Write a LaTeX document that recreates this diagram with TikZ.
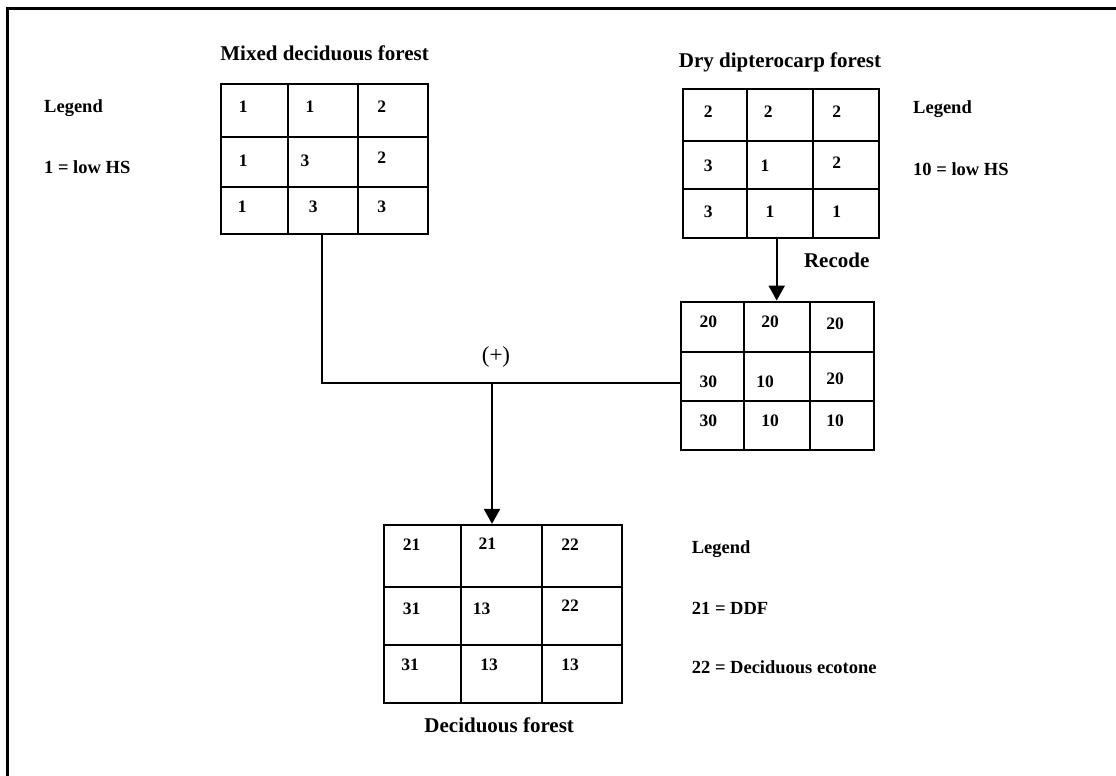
\documentclass[tikz,border=0pt]{standalone}
\usepackage{fontspec}
\setmainfont{Liberation Serif}
\usetikzlibrary{arrows.meta,fit}

% A 3x3 raster drawn as a framed box with its inner cell lines:
% name, x1, y1, x2, y2, column lines c1 c2, row lines r1 r2
\newcommand{\cellgrid}[9]{%
  \draw[gridline] (#6,#3) -- (#6,#5) (#7,#3) -- (#7,#5)
                  (#2,#8) -- (#4,#8) (#2,#9) -- (#4,#9);
  \node[gridframe, fit={(#2,#3) (#4,#5)}] (#1) {};
}

\begin{document}
\begin{tikzpicture}[x=1pt, y=-1pt,
  gridframe/.style={draw, line width=2.3pt, inner sep=0pt},
  gridline/.style={line width=1.9pt},
  num/.style={font=\fontsize{17.5}{20}\selectfont\bfseries, anchor=base, inner sep=0pt},
  title/.style={font=\fontsize{21}{24}\selectfont\bfseries, anchor=base, inner sep=0pt},
  legend/.style={font=\fontsize{18.5}{22}\selectfont\bfseries, anchor=base west, inner sep=0pt},
  link/.style={line width=1.9pt},
  arrowlink/.style={line width=2.2pt, -{Triangle[width=16pt, length=15pt]}}]

\useasboundingbox (0,0) rectangle (1116,776);

% outer frame (open at the right and bottom page edges)
\draw[line width=2.6pt] (7.7,780) -- (7.7,8.5) -- (1120,8.5);

% ---- Mixed deciduous forest ----
\node[title] (tA) at (324.6,60) {Mixed deciduous forest};
\cellgrid{gA}{220.7}{84.3}{427.7}{234}{287.7}{358}{136.7}{186.7}
\node[num] (a11) at (243.3,112.7) {1};
\node[num] (a12) at (310,112.7) {1};
\node[num] (a13) at (381.7,112.7) {2};
\node[num] (a21) at (243.3,166) {1};
\node[num] (a22) at (305,166) {3};
\node[num] (a23) at (381.7,163.7) {2};
\node[num] (a31) at (242.3,212.7) {1};
\node[num] (a32) at (313.3,212.7) {3};
\node[num] (a33) at (381.7,212.7) {3};

\node[legend] (lgA) at (44,112.5) {Legend};
\node[legend] (lgA1) at (44,173.5) {1 = low HS};

% ---- Dry dipterocarp forest ----
\node[title] (tB) at (780,67) {Dry dipterocarp forest};
\cellgrid{gB}{683.3}{89.3}{878.7}{238.3}{746.7}{813.3}{141}{189.3}
\node[num] (b11) at (708.3,117.7) {2};
\node[num] (b12) at (768.3,117.7) {2};
\node[num] (b13) at (836.7,117.7) {2};
\node[num] (b21) at (708.3,171) {3};
\node[num] (b22) at (765,171) {1};
\node[num] (b23) at (836.7,168.7) {2};
\node[num] (b31) at (708.3,217.7) {3};
\node[num] (b32) at (770,217.7) {1};
\node[num] (b33) at (836.7,217.7) {1};

\node[legend] (lgB) at (913,113.6) {Legend};
\node[legend] (lgB1) at (913,175) {10 = low HS};

% ---- recoded dry dipterocarp forest ----
\node[title] (rec) at (836.7,267.3) {Recode};
\cellgrid{gR}{680.7}{301.7}{874}{450}{744}{810}{351.7}{400.7}
\node[num] (r11) at (708.3,327.7) {20};
\node[num] (r12) at (770,327) {20};
\node[num] (r13) at (835,329) {20};
\node[num] (r21) at (708.3,387.7) {30};
\node[num] (r22) at (765,387.7) {10};
\node[num] (r23) at (835,384.7) {20};
\node[num] (r31) at (708.3,426) {30};
\node[num] (r32) at (770,426) {10};
\node[num] (r33) at (835,426) {10};

% ---- overlay result: Deciduous forest ----
\cellgrid{gC}{384}{525}{622}{703.3}{461}{542.3}{587.3}{645}
\node[num] (c11) at (411.7,550) {21};
\node[num] (c12) at (487.3,549.5) {21};
\node[num] (c13) at (570,550.5) {22};
\node[num] (c21) at (411.7,614.3) {31};
\node[num] (c22) at (481.7,614.3) {13};
\node[num] (c23) at (570,611.5) {22};
\node[num] (c31) at (410,670) {31};
\node[num] (c32) at (489,670) {13};
\node[num] (c33) at (570,670) {13};
\node[title] (tC) at (499.2,732.3) {Deciduous forest};

\node[legend] (lgC) at (691.7,553) {Legend};
\node[legend] (lgC1) at (691.7,614) {21 = DDF};
\node[legend] (lgC2) at (691.7,673.3) {22 = Deciduous ecotone};

% ---- connectors ----
\coordinate (jA) at (321.7,382.7);
\coordinate (jM) at (492,382.7);
\coordinate (rc) at (776.7,0);
\draw[link] (jA |- gA.south) -- (jA) -- (jA -| gR.west);
\node[font=\fontsize{23}{26}\selectfont, anchor=base, inner sep=0pt] (plus) at (496,362) {(+)};
\draw[arrowlink] (jM) -- (jM |- gC.north);
\draw[arrowlink] (rc |- gB.south) -- (rc |- gR.north);

\end{tikzpicture}
\end{document}
